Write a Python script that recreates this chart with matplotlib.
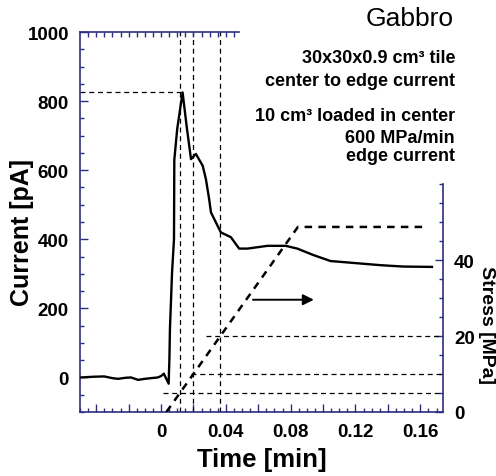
import numpy as np
import matplotlib
matplotlib.use("Agg")
import matplotlib.pyplot as plt
from matplotlib.ticker import FixedLocator, FuncFormatter, MultipleLocator

plt.rcParams['font.family'] = ['Liberation Sans', 'DejaVu Sans']

# edge current record [min], [pA]
t_cur = [-0.0492, -0.0420, -0.0351, -0.0300, -0.0265, -0.0220, -0.0185, -0.0142,
         -0.0100, -0.0062, -0.0020, 0.0000, 0.0017, 0.0047, 0.0052, 0.0055,
         0.0068, 0.0080, 0.0082, 0.0100, 0.0133, 0.0160, 0.0185, 0.0215,
         0.0257, 0.0277, 0.0297, 0.0308, 0.0349, 0.0369, 0.0431, 0.0482,
         0.0534, 0.0657, 0.0769, 0.0841, 0.0942, 0.1046, 0.1149, 0.1354,
         0.1495, 0.1672]
current = [0, 2, 3, -2, -4, -1, 0, -7,
           -4, -2, 0, 4, 11, -18, 60, 140,
           304, 400, 630, 720, 825, 720, 632, 647,
           613, 574, 516, 478, 439, 420, 406, 373,
           373, 381, 381, 373, 354, 337, 333, 325,
           321, 320]

# loading ramp
rate = 600.0          # MPa/min
t_start = 0.0033
s_max = 48.7
t_end = 0.164

# marker levels on stress axis and where their guide lines begin
marks = [5, 10, 20]
mark_from = [0.0013, 0.0185, 0.0277]
peak_guide_to = 0.0142

navy = '#2e2e80'

fig = plt.figure(figsize=(4.96, 4.77), dpi=100)
ax = fig.add_axes([80/496, 1 - 413/477, 363/496, 380/477])

ax.plot(t_cur, current, color='black', lw=1.7, zorder=5)

xmin, xmax = -0.05, 0.174
ax.set_xlim(xmin, xmax)
ax.set_ylim(-100, 1000)

# peak guide
ax.plot([xmin, peak_guide_to], [max(current)] * 2, color='black', lw=0.9, ls=(0, (4, 3)))

# vertical guides where the ramp crosses the marked stresses
t_marks = [t_start + m / rate for m in marks]
for tm in t_marks:
    ax.axvline(tm, color='black', lw=0.9, ls=(0, (4, 3)))

# arrow pointing to stress axis
ax.annotate('', xy=(0.096, 225), xytext=(0.055, 225),
            arrowprops=dict(arrowstyle='-|>', color='black', lw=1.4, mutation_scale=16))

for side in ['left', 'bottom', 'top']:
    ax.spines[side].set_color(navy)
    ax.spines[side].set_linewidth(1.2)
ax.spines['right'].set_visible(False)
ax.spines['top'].set_bounds(xmin, 0.048)

ax.xaxis.set_major_locator(FixedLocator(np.arange(-0.04, 0.17, 0.02)))
ax.xaxis.set_minor_locator(MultipleLocator(0.005))
ax.xaxis.set_major_formatter(FuncFormatter(
    lambda v, p: ('0' if abs(v) < 1e-9 else '%.2f' % v) if v > -1e-9 and round(v / 0.02) % 2 == 0 else ''))
ax.yaxis.set_major_locator(FixedLocator([0, 200, 400, 600, 800, 1000]))
ax.yaxis.set_minor_locator(MultipleLocator(50))
ax.tick_params(which='both', direction='in', color=navy, labelsize=13.5, pad=8)
ax.tick_params(which='major', length=6, width=1)
ax.tick_params(which='minor', length=3, width=1)
for lab in ax.get_xticklabels() + ax.get_yticklabels():
    lab.set_fontweight('bold')

ax.set_xlabel('Time [min]', fontsize=18.5, fontweight='bold', labelpad=5)
ax.set_ylabel('Current [pA]', fontsize=18, fontweight='bold')
ax.yaxis.set_label_coords(-0.128, 0.476)

# top ticks only along the drawn part of the top spine
axt = ax.twiny()
axt.set_xlim(xmin, xmax)
for side in ['left', 'bottom', 'right', 'top']:
    axt.spines[side].set_visible(False)
axt.xaxis.set_major_locator(FixedLocator(np.arange(-0.045, 0.049, 0.005)))
axt.tick_params(direction='in', color=navy, length=3.5, width=1, labeltop=False)

# stress axis
ax2 = ax.twinx()
ax2.set_ylim(0, 100)
ramp_t = [t_start, t_start + s_max / rate, t_end]
ramp_s = [0, s_max, s_max]
ax2.plot(ramp_t, ramp_s, color='black', lw=1.8, ls=(0, (3, 2.5)))
for m, tf in zip(marks, mark_from):
    ax2.plot([tf, xmax], [m, m], color='black', lw=0.9, ls=(0, (4, 3)))
for side in ['left', 'bottom', 'top']:
    ax2.spines[side].set_visible(False)
ax2.spines['right'].set_color(navy)
ax2.spines['right'].set_linewidth(1.2)
ax2.spines['right'].set_bounds(0, 60)
ax2.yaxis.set_major_locator(FixedLocator([0, 20, 40]))
ax2.yaxis.set_minor_locator(FixedLocator(np.arange(5, 61, 5)))
ax2.tick_params(which='both', direction='in', color=navy, labelsize=13.5, pad=8)
ax2.tick_params(which='major', length=6, width=1)
ax2.tick_params(which='minor', length=3, width=1)
for lab in ax2.get_yticklabels():
    lab.set_fontweight('bold')

fig.text(478/496, 1 - 325/477, 'Stress [MPa]', rotation=-90, ha='left', va='center',
         fontsize=14, fontweight='bold')

# annotations
fig.text(454/496, 1 - 26/477, 'Gabbro', ha='right', va='baseline', fontsize=19)
info = [('30x30x0.9 cm³ tile', 63), ('center to edge current', 86),
        ('10 cm³ loaded in center', 121), ('600 MPa/min', 143), ('edge current', 161)]
for txt, yb in info:
    fig.text(455/496, 1 - yb/477, txt, ha='right', va='baseline', fontsize=13, fontweight='bold')

fig.savefig('out.png', dpi=100)
